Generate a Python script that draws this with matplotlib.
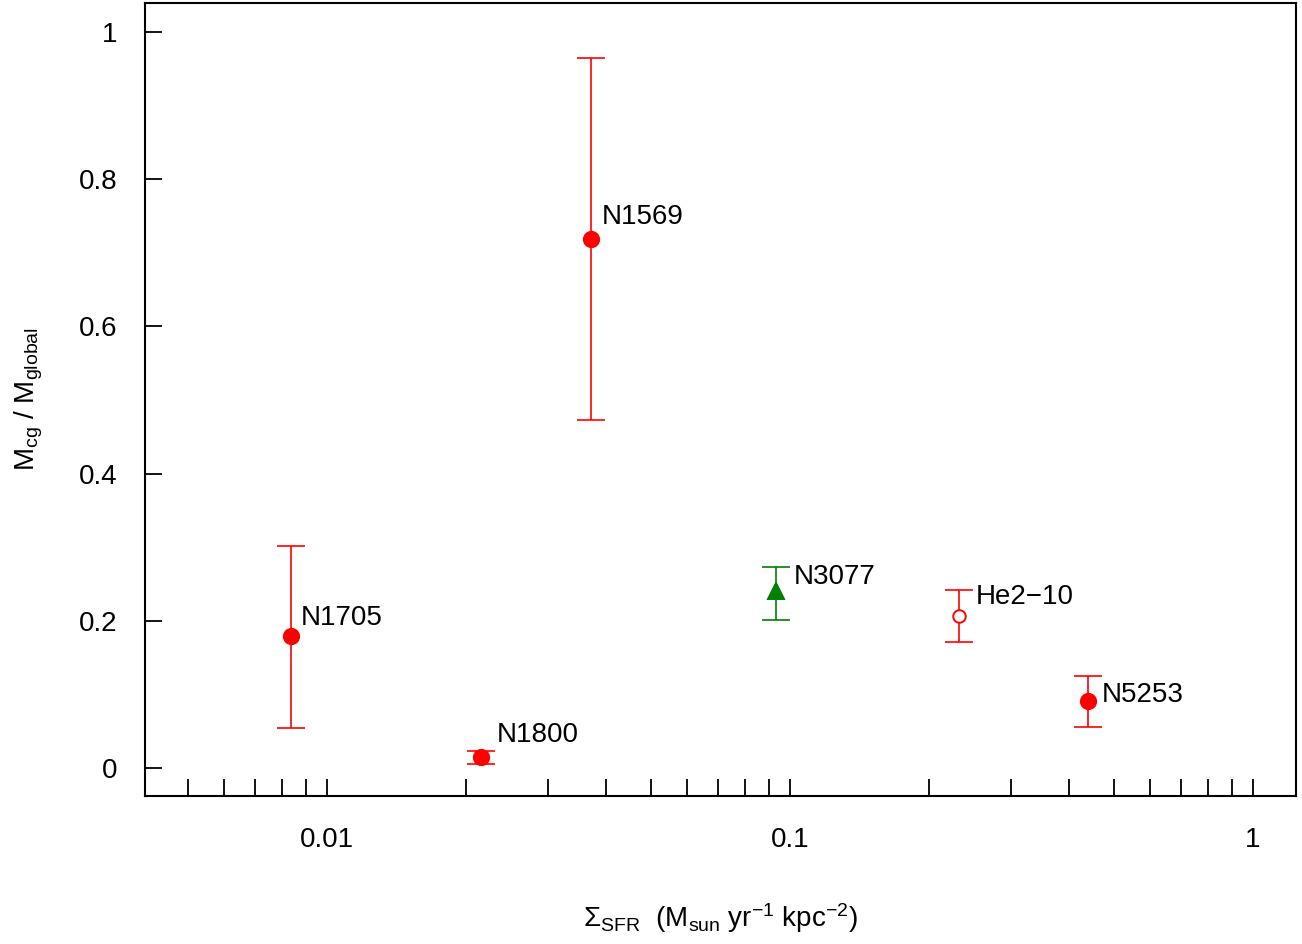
import matplotlib
matplotlib.use("Agg")
import matplotlib.pyplot as plt
import numpy as np

plt.rcParams['font.family'] = ['Liberation Sans', 'DejaVu Sans']
plt.rcParams['mathtext.fontset'] = 'custom'
plt.rcParams['mathtext.rm'] = 'Liberation Sans'
plt.rcParams['mathtext.it'] = 'Liberation Sans'
plt.rcParams['mathtext.default'] = 'regular'

names = ["N1705", "N1800", "N1569", "N3077", "He2\u221210", "N5253"]
sfr = [0.00836, 0.0215, 0.0371, 0.0933, 0.232, 0.440]
ratio = [0.179, 0.015, 0.719, 0.240, 0.207, 0.091]
err_hi = [0.302, 0.023, 0.965, 0.273, 0.242, 0.125]
err_lo = [0.054, 0.005, 0.473, 0.201, 0.171, 0.056]
colors = ["red", "red", "red", "green", "red", "red"]
markers = ["o", "o", "o", "^", "o", "o"]
filled = [True, True, True, True, False, True]
label_off = [(10, 18), (16, 22), (11, 22), (18, 14), (17, 19), (14, 6)]

fig = plt.figure(figsize=(13.02, 9.44), dpi=100)
ax = fig.add_axes([145/1302, (944-796)/944, (1296-145)/1302, (796-3)/944])

for i in range(len(names)):
    c = colors[i]
    ax.errorbar([sfr[i]], [ratio[i]],
                yerr=[[ratio[i]-err_lo[i]], [err_hi[i]-ratio[i]]],
                fmt='none', ecolor=c, elinewidth=1.2, capsize=10, capthick=1.2, zorder=2)
    ms = 11 if markers[i] == 'o' else 12
    if not filled[i]:
        ms = 9
    ax.plot([sfr[i]], [ratio[i]], marker=markers[i], color=c, markersize=ms,
            markerfacecolor=c if filled[i] else 'white', markeredgewidth=1.4,
            linestyle='none', zorder=3)
    ax.annotate(names[i], (sfr[i], ratio[i]), xytext=label_off[i],
                textcoords='offset pixels', fontsize=20, ha='left', va='center')

ax.set_xscale('log')
ax.set_xticks([0.01, 0.1, 1])
ax.set_xticklabels(["0.01", "0.1", "1"])
minor = [k*10.0**e for e in (-3, -2, -1) for k in range(2, 10)]
ax.set_xticks(minor, minor=True)
ax.xaxis.set_minor_formatter(matplotlib.ticker.NullFormatter())
ax.set_yticks([0, 0.2, 0.4, 0.6, 0.8, 1.0])
ax.set_yticklabels(["0", "0.2", "0.4", "0.6", "0.8", "1"])
ax.set_xlim(10**(-2 - 182/463), 10**(43/463))
ax.set_ylim(-28/736, 765/736)

ax.tick_params(axis='both', which='both', direction='in', length=12, width=1.3,
               labelsize=20)
ax.tick_params(axis='x', which='both', pad=22)
ax.tick_params(axis='y', pad=20)
for s in ax.spines.values():
    s.set_linewidth(1.5)

ax.set_xlabel(r"$\Sigma_{SFR}$  ($M_{sun}$ yr$^{-1}$ kpc$^{-2}$)", fontsize=20, labelpad=35)
ax.set_ylabel(r"$M_{cg}$ / $M_{global}$", fontsize=20, labelpad=24)

fig.savefig("out.png", dpi=100)
